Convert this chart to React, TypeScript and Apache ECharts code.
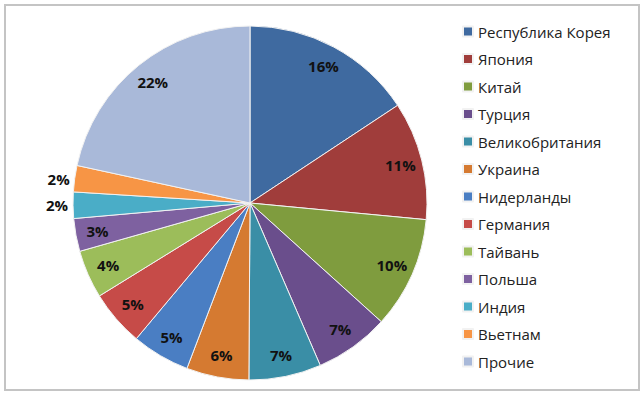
import React, { useEffect, useRef } from "react";
import * as echarts from "echarts";

const countries = [
  "Республика Корея",
  "Япония",
  "Китай",
  "Турция",
  "Великобритания",
  "Украина",
  "Нидерланды",
  "Германия",
  "Тайвань",
  "Польша",
  "Индия",
  "Вьетнам",
  "Прочие",
];
const shares = [15.7, 10.8, 10.2, 6.8, 6.6, 5.7, 5.3, 5.1, 4.4, 3.0, 2.4, 2.4, 21.6];
const sliceColors = [
  "#3F6AA0",
  "#A03D3B",
  "#7F9C3E",
  "#6A4E8C",
  "#3A8EA6",
  "#D57A31",
  "#4A7EC3",
  "#C64B48",
  "#9CBD5A",
  "#7E61A0",
  "#4AADC7",
  "#F79545",
  "#A9B9D9",
];
const outsideLabels = ["Индия", "Вьетнам"];

export default function App() {
  const ref = useRef<HTMLDivElement>(null);
  useEffect(() => {
    if (!ref.current) return;
    const chart = echarts.init(ref.current, null, { renderer: "svg" });
    const baseData = countries.map((name, i) => ({
      name,
      value: shares[i],
      itemStyle: { color: sliceColors[i] },
    }));
    const labelData = countries.map((name, i) => ({
      name,
      value: shares[i],
      label: outsideLabels.includes(name) ? { position: "outside" } : undefined,
    }));
    chart.setOption({
      animation: false,
      backgroundColor: "#ffffff",
      graphic: [
        {
          type: "rect",
          shape: { x: 5, y: 5, width: 634, height: 385 },
          style: { fill: "none", stroke: "#c4c4c4", lineWidth: 2 },
          z: 0,
        },
      ],
      legend: {
        orient: "vertical",
        left: 462,
        top: 24,
        padding: 0,
        icon: "rect",
        itemWidth: 10,
        itemHeight: 10,
        itemGap: 12.5,
        data: countries,
        selectedMode: false,
        textStyle: {
          fontFamily: "Open Sans",
          fontSize: 15,
          lineHeight: 15,
          color: "#222222",
        },
      },
      series: [
        {
          type: "pie",
          center: [250, 203],
          radius: 177,
          startAngle: 90,
          clockwise: true,
          avoidLabelOverlap: false,
          label: { show: false },
          labelLine: { show: false },
          itemStyle: { borderColor: "#f2f2f2", borderWidth: 1 },
          data: baseData,
        },
        {
          type: "pie",
          center: [250, 203],
          radius: [127, 177],
          startAngle: 90,
          clockwise: true,
          silent: true,
          avoidLabelOverlap: false,
          itemStyle: { color: "rgba(0,0,0,0)", borderWidth: 0 },
          label: {
            show: true,
            position: "inside",
            formatter: (p: any) => Math.round(p.percent) + "%",
            fontFamily: "Open Sans",
            fontWeight: "bold",
            fontSize: 15,
            color: "#111111",
            distanceToLabelLine: 5,
          },
          labelLine: { show: false, length: 0, length2: 0 },
          data: labelData,
        },
      ],
    });
    return () => chart.dispose();
  }, []);
  return (
    <div
      ref={ref}
      style={{ position: "fixed", left: 0, top: 0, width: 644, height: 396 }}
    />
  );
}
